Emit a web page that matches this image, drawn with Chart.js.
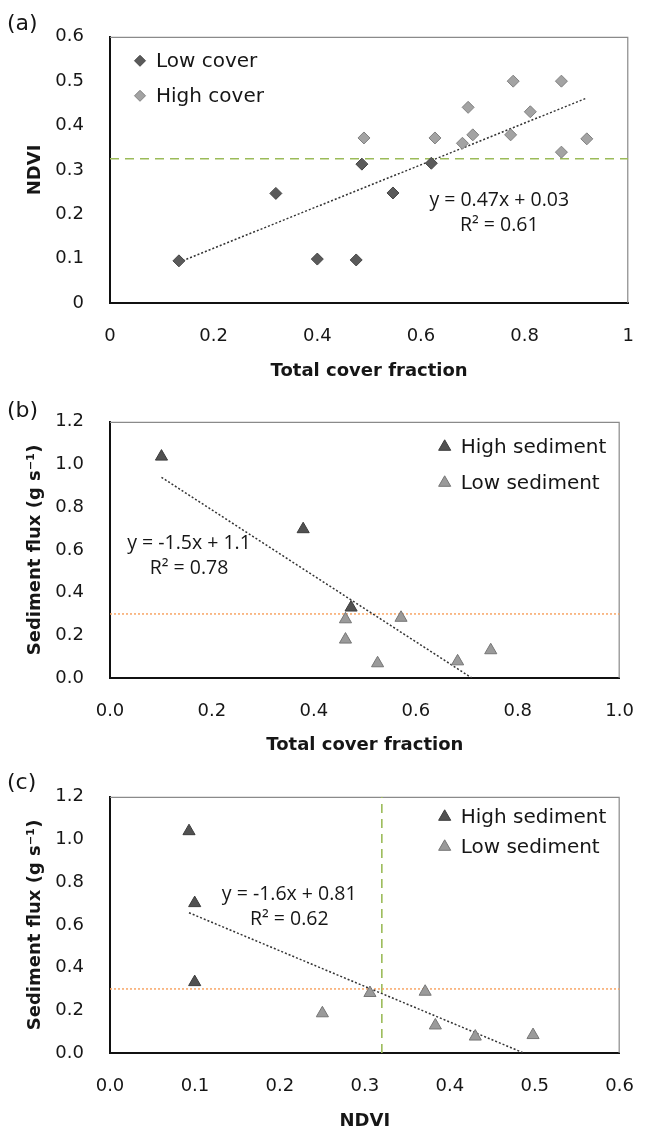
<!DOCTYPE html>
<html>
<head>
<meta charset="utf-8">
<script src="https://cdn.jsdelivr.net/npm/chart.js@4.4.1/dist/chart.umd.min.js"></script>
<style>
  body { margin: 0; background: #fff; }
  canvas { display: block; }
</style>
</head>
<body>
<canvas id="ca" width="657" height="385"></canvas>
<canvas id="cb" width="657" height="375"></canvas>
<canvas id="cc" width="657" height="372"></canvas>
<script>
// (a) NDVI vs total cover fraction
const lowCoverX = [0.133, 0.32, 0.40, 0.475, 0.486, 0.546, 0.62];
const lowCoverNdvi = [0.095, 0.247, 0.099, 0.097, 0.313, 0.248, 0.315];
const highCoverX = [0.49, 0.627, 0.68, 0.70, 0.691, 0.773, 0.778, 0.811, 0.871, 0.871, 0.92];
const highCoverNdvi = [0.372, 0.372, 0.36, 0.379, 0.441, 0.379, 0.50, 0.431, 0.50, 0.34, 0.37];
const trendA = [[0.133, 0.092], [0.92, 0.462]];
const ndviLevel = 0.325;
const aXTicks = ['0', '0.2', '0.4', '0.6', '0.8', '1'];
const aYTicks = ['0', '0.1', '0.2', '0.3', '0.4', '0.5', '0.6'];

// (b) sediment flux vs total cover fraction
const highSedCover = [0.101, 0.379, 0.473];
const highSedFluxB = [1.037, 0.697, 0.33];
const lowSedCover = [0.462, 0.462, 0.525, 0.571, 0.682, 0.747];
const lowSedFluxB = [0.275, 0.18, 0.069, 0.282, 0.078, 0.13];
const trendB = [[0.101, 0.94], [0.71, 0]];
const fluxLevel = 0.3;
const bXTicks = ['0.0', '0.2', '0.4', '0.6', '0.8', '1.0'];
const fluxTicks = ['0.0', '0.2', '0.4', '0.6', '0.8', '1.0', '1.2'];

// (c) sediment flux vs NDVI
const highSedNdvi = [0.093, 0.0997, 0.0997];
const highSedFluxC = [1.039, 0.702, 0.332];
const lowSedNdvi = [0.25, 0.306, 0.371, 0.383, 0.43, 0.498];
const lowSedFluxC = [0.186, 0.281, 0.287, 0.129, 0.077, 0.084];
const trendC = [[0.093, 0.657], [0.487, 0]];
const ndviCut = 0.32;
const cXTicks = ['0.0', '0.1', '0.2', '0.3', '0.4', '0.5', '0.6'];

const FONT = "'DejaVu Sans', sans-serif";
const EQ_FONT = "'Open Sans', sans-serif";
const INK = '#161616';

const pts = (xs, ys) => xs.map((v, i) => ({ x: v, y: ys[i] }));
const seg = p => p.map(q => ({ x: q[0], y: q[1] }));

function marks(label, xs, ys, style, fill, edge) {
  return {
    label, data: pts(xs, ys), pointStyle: style, pointRadius: style === 'triangle' ? 7 : 6,
    backgroundColor: fill, borderColor: edge, borderWidth: 1, order: 0
  };
}
function line(data, color, dash, width) {
  return {
    type: 'line', data, showLine: true, pointRadius: 0, borderColor: color,
    borderDash: dash, borderWidth: width, fill: false, order: 1, noLegend: true
  };
}

function drawMark(ctx, style, x, y, r) {
  ctx.beginPath();
  if (style === 'rectRot') {
    ctx.moveTo(x, y - r); ctx.lineTo(x + r, y); ctx.lineTo(x, y + r); ctx.lineTo(x - r, y);
  } else {
    ctx.moveTo(x, y - r); ctx.lineTo(x + r * 0.866, y + r / 2); ctx.lineTo(x - r * 0.866, y + r / 2);
  }
  ctx.closePath();
  ctx.fill();
  ctx.stroke();
}

// frame top/right, panel tag, equation text and in-plot legend
const decor = {
  id: 'decor',
  beforeDatasetsDraw(chart) {
    const { ctx, chartArea: a } = chart;
    ctx.save();
    ctx.strokeStyle = '#8a8a8a';
    ctx.lineWidth = 1.2;
    ctx.beginPath();
    ctx.moveTo(a.left, a.top + 0.5);
    ctx.lineTo(a.right - 0.5, a.top + 0.5);
    ctx.lineTo(a.right - 0.5, a.bottom);
    ctx.stroke();
    ctx.restore();
  },
  afterDraw(chart, args, o) {
    const { ctx, chartArea: a, scales: { x, y } } = chart;
    ctx.save();
    ctx.fillStyle = INK;
    ctx.textBaseline = 'middle';
    ctx.font = `22px ${FONT}`;
    ctx.fillText(o.tag, 7, o.tagY);

    ctx.font = `19.5px ${EQ_FONT}`;
    ctx.textAlign = 'center';
    const ex = x.getPixelForValue(o.eqAt[0]);
    const ey = y.getPixelForValue(o.eqAt[1]);
    ctx.fillText(o.eq[0], ex, ey);
    ctx.fillText(o.eq[1], ex, ey + 25);

    ctx.textAlign = 'left';
    ctx.font = `20px ${FONT}`;
    const mx = o.legendRight ? a.right - o.legendDx : a.left + o.legendDx;
    chart.data.datasets.filter(d => !d.noLegend).forEach((d, i) => {
      const my = a.top + o.legendDy + i * o.legendGap;
      ctx.fillStyle = d.backgroundColor;
      ctx.strokeStyle = d.borderColor;
      ctx.lineWidth = 1;
      drawMark(ctx, d.pointStyle, mx, my, d.pointStyle === 'triangle' ? 7 : 5.5);
      ctx.fillStyle = INK;
      ctx.fillText(d.label, mx + 16, my + 1);
    });
    ctx.restore();
  }
};

function axis(o) {
  const horiz = o.pos === 'x';
  return {
    type: 'linear', min: o.min, max: o.max,
    ticks: {
      stepSize: o.step, color: INK, padding: horiz ? 23 : 26,
      font: { family: FONT, size: 18 },
      callback: (v, i) => o.labels[i]
    },
    grid: { drawOnChartArea: false, drawTicks: false },
    border: { display: true, color: '#111', width: 2 },
    title: {
      display: true, text: o.title, color: INK,
      font: { family: FONT, size: 18, weight: 'bold' },
      padding: horiz ? { top: 0, bottom: o.titlePad } : { top: 25, bottom: 0 }
    },
    afterFit: s => { if (horiz) s.height = o.size; else s.width = o.size; }
  };
}

function makeChart(id, top, bottom, datasets, xo, yo, deco) {
  const cv = document.getElementById(id);
  xo.pos = 'x'; xo.size = cv.height - bottom;
  yo.pos = 'y'; yo.size = 110;
  return new Chart(cv, {
    type: 'scatter',
    data: { datasets },
    options: {
      responsive: false, animation: false, events: [],
      layout: { padding: { top, right: 19, bottom: 0, left: 0 } },
      plugins: { legend: { display: false }, tooltip: { enabled: false }, decor: deco },
      scales: { x: axis(xo), y: axis(yo) }
    },
    plugins: [decor]
  });
}

makeChart('ca', 24, 303, [
  marks('Low cover', lowCoverX, lowCoverNdvi, 'rectRot', '#5a5a5a', '#464646'),
  marks('High cover', highCoverX, highCoverNdvi, 'rectRot', '#a3a3a3', '#808080'),
  line(seg(trendA), '#333', [2, 2], 1.5),
  line([{ x: 0, y: ndviLevel }, { x: 1, y: ndviLevel }], '#9bbb59', [9, 6], 1.6)
], { min: 0, max: 1, step: 0.2, labels: aXTicks, title: 'Total cover fraction', titlePad: 2.7 },
   { min: 0, max: 0.6, step: 0.1, labels: aYTicks, title: 'NDVI' },
   { tag: '(a)', tagY: 24.5, eq: ['y = 0.47x + 0.03', 'R\u00b2 = 0.61'], eqAt: [0.751, 0.231],
     legendRight: false, legendDx: 30, legendDy: 24, legendGap: 35 });

makeChart('cb', 28, 293, [
  marks('High sediment', highSedCover, highSedFluxB, 'triangle', '#515151', '#3c3c3c'),
  marks('Low sediment', lowSedCover, lowSedFluxB, 'triangle', '#9a9a9a', '#767676'),
  line(seg(trendB), '#333', [2, 2], 1.5),
  line([{ x: 0, y: fluxLevel }, { x: 1, y: fluxLevel }], '#f8a565', [2, 2], 1.5)
], { min: 0, max: 1, step: 0.2, labels: bXTicks, title: 'Total cover fraction', titlePad: 4.2 },
   { min: 0, max: 1.2, step: 0.2, labels: fluxTicks, title: 'Sediment flux (g s\u207b\u00b9)' },
   { tag: '(b)', tagY: 26, eq: ['y = -1.5x + 1.1', 'R\u00b2 = 0.78'], eqAt: [0.155, 0.63],
     legendRight: true, legendDx: 175, legendDy: 25, legendGap: 36 });

makeChart('cc', 27, 293, [
  marks('High sediment', highSedNdvi, highSedFluxC, 'triangle', '#515151', '#3c3c3c'),
  marks('Low sediment', lowSedNdvi, lowSedFluxC, 'triangle', '#9a9a9a', '#767676'),
  line(seg(trendC), '#333', [2, 2], 1.5),
  line([{ x: 0, y: fluxLevel }, { x: 0.6, y: fluxLevel }], '#f8a565', [2, 2], 1.5),
  line([{ x: ndviCut, y: 0 }, { x: ndviCut, y: 1.2 }], '#9bbb59', [9, 6], 1.6)
], { min: 0, max: 0.6, step: 0.1, labels: cXTicks, title: 'NDVI', titlePad: 0 },
   { min: 0, max: 1.2, step: 0.2, labels: fluxTicks, title: 'Sediment flux (g s\u207b\u00b9)' },
   { tag: '(c)', tagY: 23, eq: ['y = -1.6x + 0.81', 'R\u00b2 = 0.62'], eqAt: [0.211, 0.744],
     legendRight: true, legendDx: 175, legendDy: 20, legendGap: 30 });
</script>
</body>
</html>
